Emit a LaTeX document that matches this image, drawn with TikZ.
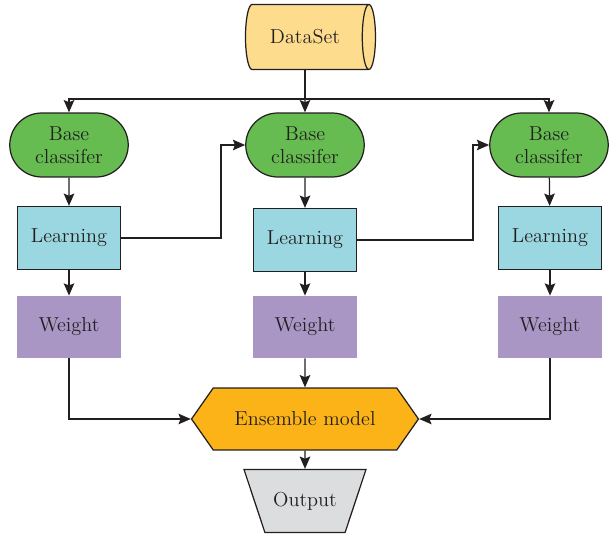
\documentclass[tikz,border=0pt]{standalone}
\usetikzlibrary{arrows.meta,shapes.geometric,shapes.misc,shapes.symbols}
\definecolor{ink}{HTML}{231F20}
\definecolor{dataclr}{HTML}{FDDC8E}
\definecolor{baseclr}{HTML}{66BC50}
\definecolor{learnclr}{HTML}{9BD7E0}
\definecolor{weightclr}{HTML}{A996C5}
\definecolor{ensclr}{HTML}{FBB317}
\definecolor{outclr}{HTML}{DCDDDE}
\tikzset{
  every node/.style={font=\rmfamily\fontsize{11.5}{13}\selectfont, text=ink, align=center},
  arr/.style={draw=ink, line width=0.7pt, -{Stealth[length=7pt,width=6pt,inset=1.2pt]}},
  line/.style={draw=ink, line width=0.7pt},
  baseclf/.style={rounded rectangle, draw=ink, line width=0.7pt, fill=baseclr, minimum width=2.44cm, minimum height=1.28cm, inner sep=1pt},
  learnbox/.style={rectangle, draw=ink, line width=0.7pt, fill=learnclr, minimum width=2.06cm, minimum height=1.26cm},
  weightbox/.style={rectangle, fill=weightclr, minimum width=2.08cm, minimum height=1.24cm}
}

\begin{document}
\begin{tikzpicture}[x=0.02cm, y=-0.02cm]
		%%%%% START %%%%%
		\useasboundingbox (0,0) rectangle (610,537);
		
		\node[cylinder, draw=ink, line width=0.7pt, fill=dataclr, aspect=0.5, minimum width=1.3cm, minimum height=2.6cm, shape border rotate=0] (data) at (305,37) {DataSet};
		
		\node[baseclf] (bc1) at (69,145) {Base\\classifer};
		\node[baseclf] (bc2) at (305,145) {Base\\classifer};
		\node[baseclf] (bc3) at (549,145) {Base\\classifer};
		
		\node[learnbox] (lr1) at (69,238) {Learning};
		\node[learnbox] (lr2) at (305,240) {Learning};
		\node[learnbox] (lr3) at (550,238) {Learning};
		
		\node[weightbox] (wt1) at (69,327) {Weight};
		\node[weightbox] (wt2) at (305,327) {Weight};
		\node[weightbox] (wt3) at (550,327) {Weight};
		
		\node[signal, signal to=west and east, signal pointer angle=110, draw=ink, line width=0.7pt, fill=ensclr, minimum width=4.54cm, minimum height=1.24cm] (ens) at (305,419) {Ensemble model};
		
		\node[trapezium, trapezium angle=55, trapezium stretches body, shape border rotate=180, draw=ink, line width=0.7pt, fill=outclr, minimum width=2.44cm, minimum height=1.26cm] (out) at (305,501) {Output};
		
		\coordinate (split) at (305,99);
		\draw[line] (data.south -| split) -- (split);
		\draw[arr] (split) -- (bc2);
		\draw[arr] (split) -| (bc1);
		\draw[arr] (split) -| (bc3);
		
		\draw[arr] (bc1) -- (lr1);
		\draw[arr] (bc2) -- (lr2);
		\draw[arr] (bc3) -- (lr3);
		\draw[arr] (lr1) -- (wt1);
		\draw[arr] (lr2) -- (wt2);
		\draw[arr] (lr3) -- (wt3);
		
		\draw[arr] (lr1.east) -- (221,238) |- (bc2.west);
		\draw[arr] (lr2.east) -- (473,240) |- (bc3.west);
		
		\draw[arr] (wt1) |- (ens.west);
		\draw[arr] (wt3) |- (ens.east);
		\draw[arr] (wt2) -- (ens);
		\draw[arr] (ens) -- (out);
		%%%%% END %%%%%
	\end{tikzpicture}
\end{document}
